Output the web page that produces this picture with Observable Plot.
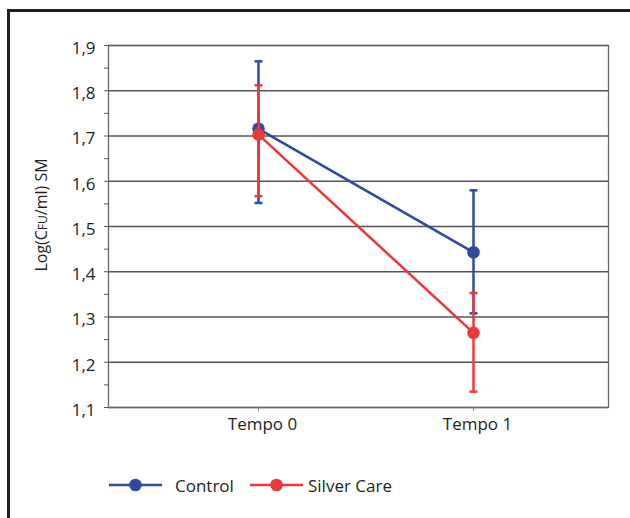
<!DOCTYPE html>
<html><head><meta charset="utf-8">
<script src="https://cdn.jsdelivr.net/npm/d3@7"></script>
<script src="https://cdn.jsdelivr.net/npm/@observablehq/plot@0.6"></script>
<style>
html,body{margin:0;padding:0;background:#fff;overflow:hidden;width:630px;height:518px;}
#frame{position:absolute;left:7px;top:9px;width:700px;height:600px;border:3px solid #231f20;box-sizing:border-box;}
#chart{position:absolute;left:0;top:0;}
#legend{position:absolute;top:473px;left:0;width:630px;height:24px;font-family:"Open Sans";font-size:17px;color:#231f20;}
.item{position:absolute;top:0;display:flex;align-items:center;height:24px;white-space:nowrap;}
</style></head><body>
<div id="frame"></div>
<div id="chart"></div>
<div id="legend"></div>
<script>
const timepoints = ["Tempo 0", "Tempo 1"];
const groups = ["Control", "Silver Care"];
const colors = ["#2e4b9f", "#ea3a3b"];
const controlMean = [1.716, 1.443];
const controlLow = [1.552, 1.308];
const controlHigh = [1.865, 1.580];
const silverMean = [1.703, 1.265];
const silverLow = [1.567, 1.135];
const silverHigh = [1.812, 1.353];
const yTicks = [1.1, 1.2, 1.3, 1.4, 1.5, 1.6, 1.7, 1.8, 1.9];
const yMinorTicks = [1.15, 1.25, 1.35, 1.45, 1.55, 1.65, 1.75, 1.85];

const series = {
  "Control": {mean: controlMean, low: controlLow, high: controlHigh},
  "Silver Care": {mean: silverMean, low: silverLow, high: silverHigh}
};
const rows = groups.flatMap(g => timepoints.map((t, i) => ({
  group: g, time: t, mean: series[g].mean[i], low: series[g].low[i], high: series[g].high[i]
})));

const fmt = d => d.toFixed(1).replace(".", ",");
const noText = () => "";
const cap = {draw(ctx, size) { const w = Math.sqrt(size / Math.PI); ctx.moveTo(-w, 0); ctx.lineTo(w, 0); }};

const plot = Plot.plot({
  width: 630, height: 450,
  marginLeft: 108, marginRight: 22, marginTop: 45, marginBottom: 43,
  style: {fontFamily: "Open Sans", fontSize: "17px", color: "#231f20", background: "transparent"},
  x: {type: "point", domain: timepoints, padding: 0, insetLeft: 150, insetRight: 135, label: null},
  y: {domain: [1.1, 1.9], label: null},
  color: {domain: groups, range: colors},
  marks: [
    Plot.ruleY(yTicks, {stroke: "#555", strokeWidth: 1.3}),
    Plot.frame({stroke: "#666", strokeWidth: 1.3}),
    Plot.axisY(yTicks, {tickSize: 4, tickFormat: noText, stroke: "#555", label: null}),
    Plot.axisY(yMinorTicks, {tickSize: 4, tickFormat: noText, stroke: "#555", label: null}),
    Plot.axisY(yTicks, {tickSize: 0, tickPadding: 13, dy: 3, tickFormat: fmt, fill: "#231f20", label: null, fontSize: 17}),
    Plot.axisX(timepoints, {tickSize: 4, tickFormat: noText, stroke: "#888", label: null}),
    Plot.axisX(timepoints, {tickSize: 0, tickPadding: 10, dx: 4, fill: "#231f20", label: null, fontSize: 17}),
    ...groups.flatMap(g => {
      const d = rows.filter(r => r.group === g);
      return [
        Plot.ruleX(d, {x: "time", y1: "low", y2: "high", stroke: "group", strokeWidth: 2.5}),
        Plot.dot(d, {x: "time", y: "high", symbol: cap, r: 4, stroke: "group", fill: "none", strokeWidth: 2.5}),
        Plot.dot(d, {x: "time", y: "low", symbol: cap, r: 4, stroke: "group", fill: "none", strokeWidth: 2.5}),
        Plot.line(d, {x: "time", y: "mean", stroke: "group", strokeWidth: 2.6}),
        Plot.dot(d, {x: "time", y: "mean", fill: "group", r: 6.3})
      ];
    })
  ]
});
document.getElementById("chart").appendChild(plot);

// y-axis title with small-caps "FU"
const t = d3.select(plot).append("text")
  .attr("transform", "translate(47,215) rotate(-90)")
  .attr("text-anchor", "middle")
  .attr("font-family", "Open Sans")
  .attr("font-size", 16)
  .attr("fill", "#231f20");
t.append("tspan").text("Log(C");
t.append("tspan").attr("font-size", 12).text("FU");
t.append("tspan").text("/ml) SM");

// legend
const legendLeft = [109, 250];
const legendGap = [13, 5];
const legend = d3.select("#legend");
groups.forEach((g, i) => {
  const item = legend.append("div").attr("class", "item").style("left", legendLeft[i] + "px");
  const sw = item.append("svg").attr("width", 53).attr("height", 24).style("margin-right", legendGap[i] + "px");
  sw.append("line").attr("x1", 0).attr("x2", 53).attr("y1", 12).attr("y2", 12).attr("stroke", colors[i]).attr("stroke-width", 2.6);
  sw.append("circle").attr("cx", 26.5).attr("cy", 12).attr("r", 6.3).attr("fill", colors[i]);
  item.append("span").text(g);
});
</script></body></html>
